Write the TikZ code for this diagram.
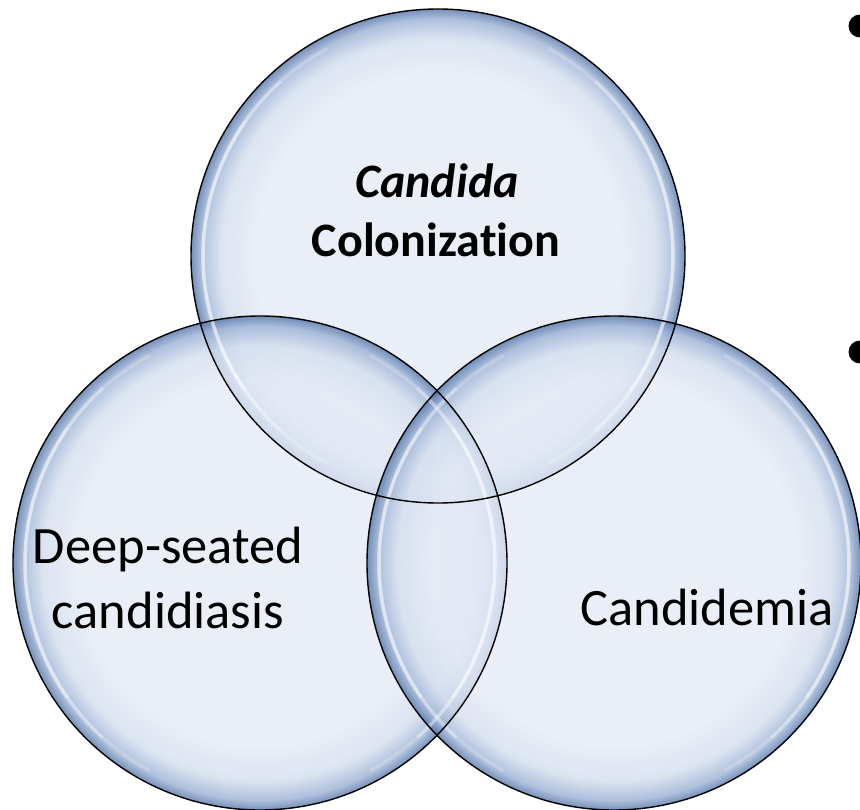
\documentclass[tikz,border=0pt]{standalone}
\usepackage{fontspec}
\setmainfont[Ligatures={NoCommon}]{Carlito}
\definecolor{bin}{HTML}{E4EAF5}
\definecolor{binb}{HTML}{D4DEEE}
\definecolor{bmid}{HTML}{9AB1D4}
\definecolor{bedge}{HTML}{5676A8}
\pgfdeclareradialshading{bubble}{\pgfpoint{0bp}{0bp}}{color(0bp)=(bin);color(18.5bp)=(bin);color(22bp)=(binb);color(24bp)=(bmid);color(25bp)=(bedge);color(50bp)=(bedge)}
\tikzset{
  bubblefill/.style={shading=bubble, fill opacity=0.8},
  rim/.style={draw=black, line width=1.4pt},
  gleam/.style={draw=white, line width=3.5pt, line cap=butt},
  lbl/.style={align=center, inner sep=0pt, text=black},
  regtxt/.style={lbl, font=\fontsize{52.5}{60}\selectfont},
  boldtxt/.style={lbl, font=\fontsize{48}{58}\selectfont\bfseries},
  bullet/.style={circle, fill=black, inner sep=0pt, minimum size=23pt}
}
\begin{document}
\begin{tikzpicture}[x=1pt,y=-1pt]
\useasboundingbox (0,0) rectangle (860,810);
\fill[white] (0,0) rectangle (860,810);
\coordinate (cT) at (438,256);
\coordinate (cL) at (260,563);
\coordinate (cR) at (614,563);
\foreach \c in {cT,cL,cR}{
  \shade[bubblefill] (\c) circle[radius=247pt];
}
\foreach \c in {cT,cL,cR}{
  \foreach \a/\b/\o in {118/132/0.2,132/145/0.4,145/215/0.6,215/228/0.4,228/242/0.2,
                        -62/-48/0.2,-48/-35/0.4,-35/35/0.6,35/48/0.4,48/62/0.2}{
    \draw[gleam, draw opacity=\o] (\c) ++(\a:235pt) arc[start angle=\a, end angle=\b, radius=235pt];
  }
}
\foreach \c in {cT,cL,cR}{
  \draw[rim] (\c) circle[radius=247pt];
}
\node[boldtxt, anchor=base] (cand) at (437,198) {\textit{Candida}};
\node[boldtxt, anchor=base] (colo) at (436,257) {Colonization};
\node[regtxt, anchor=base] (deep) at (168,563) {Deep-seated};
\node[regtxt, anchor=base] (cdds) at (168,628) {candidiasis};
\node[regtxt, anchor=base] (cdem) at (707,625) {Candidemia};
\node[bullet] (b1) at (860,26) {};
\node[bullet] (b2) at (860,352) {};
\end{tikzpicture}
\end{document}
